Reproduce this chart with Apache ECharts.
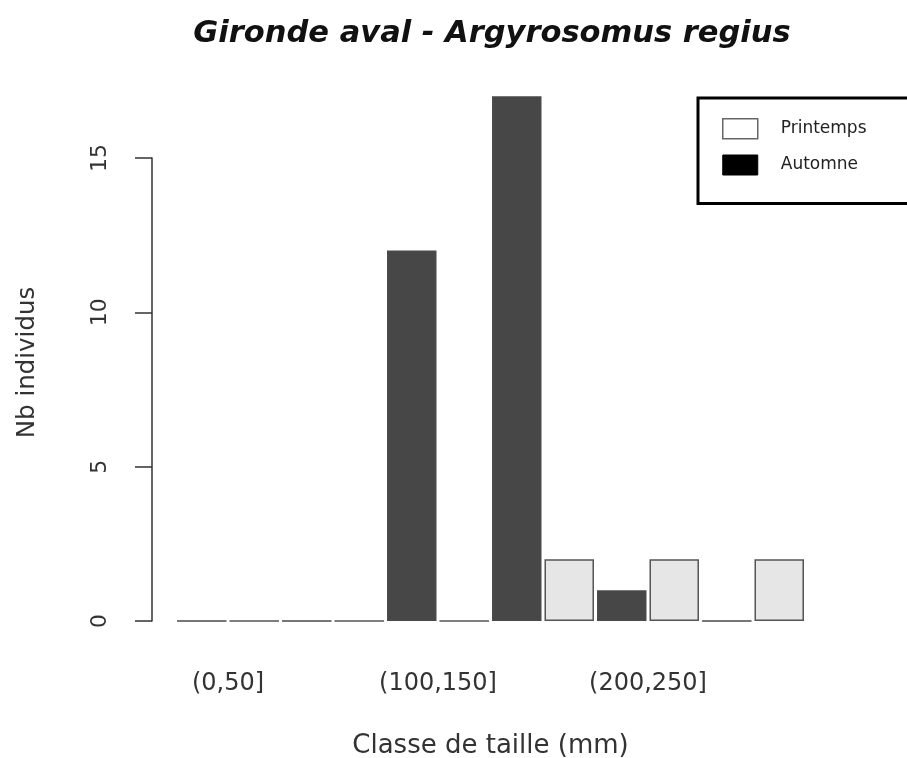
<!DOCTYPE html>
<html>
<head>
<meta charset="utf-8">
<script src="https://cdn.jsdelivr.net/npm/echarts@6/dist/echarts.min.js"></script>
<style>html,body{margin:0;padding:0;background:#fff;}#c{width:907px;height:758px;}</style>
</head>
<body>
<div id="c"></div>
<script>
const categories = ['(0,50]', '(50,100]', '(100,150]', '(150,200]', '(200,250]', '(250,300]'];
const automne = [0, 0, 12, 17, 1, 0];
const printemps = [0, 0, 0, 2, 2, 2];
const yTicks = [0, 5, 10, 15];

const FONT = 'DejaVu Sans';
const chart = echarts.init(document.getElementById('c'));
chart.setOption({
  animation: false,
  backgroundColor: '#fff',
  title: {
    text: 'Gironde aval - Argyrosomus regius',
    left: 487, top: 14, textAlign: 'center',
    textStyle: { fontFamily: FONT, fontSize: 30.5, fontWeight: 'bold', fontStyle: 'italic', color: '#111' }
  },
  legend: {
    orient: 'vertical', left: 698, top: 98,
    borderColor: '#000', borderWidth: 3,
    padding: [20, 80, 28, 24],
    itemWidth: 35, itemHeight: 20, itemGap: 15,
    icon: 'rect',
    textStyle: { fontFamily: FONT, fontSize: 17, color: '#222', padding: [0, 0, 0, 18] },
    data: [
      { name: 'Printemps', itemStyle: { color: '#fff', borderColor: '#666', borderWidth: 1.5 } },
      { name: 'Automne', itemStyle: { color: '#000', borderColor: '#000', borderWidth: 1 } }
    ]
  },
  grid: [
    { left: 175.5, right: 101.5, top: 96.2, bottom: 137, outerBoundsMode: 'none', containLabel: false },
    { left: 152, width: 10, top: 158, bottom: 137, outerBoundsMode: 'none', containLabel: false }
  ],
  xAxis: [
    {
      type: 'category', gridIndex: 0, data: categories,
      axisLine: { show: false }, axisTick: { show: false },
      axisLabel: { interval: 1, fontFamily: FONT, fontSize: 24, color: '#333', margin: 51 },
      name: 'Classe de taille (mm)', nameLocation: 'middle', nameGap: 112,
      nameTextStyle: { fontFamily: FONT, fontSize: 26, color: '#333' }
    },
    { type: 'category', gridIndex: 1, data: ['a'], show: false }
  ],
  yAxis: [
    { type: 'value', gridIndex: 0, min: 0, max: 17, show: false },
    {
      type: 'value', gridIndex: 1, min: 0, max: 15, interval: 5,
      axisLine: { show: true, lineStyle: { color: '#333', width: 1.5 } },
      axisTick: { show: true, length: 17, lineStyle: { color: '#333', width: 1.5 } },
      splitLine: { show: false },
      axisLabel: {
        rotate: 90, fontFamily: FONT, fontSize: 22, color: '#333', margin: 41,
        formatter: function (v) { return yTicks.indexOf(v) >= 0 ? String(v) : ''; }
      },
      name: 'Nb individus', nameLocation: 'middle', nameRotate: 90, nameGap: 112,
      nameTextStyle: { fontFamily: FONT, fontSize: 24.5, color: '#333', padding: [0, 0, 0, 54] }
    }
  ],
  series: [
    {
      name: 'Automne', type: 'bar', xAxisIndex: 0, yAxisIndex: 0, data: automne,
      barCategoryGap: '2.9%', barGap: '6%',
      itemStyle: { color: '#474747', borderColor: '#4a4a4a', borderWidth: 1.5 }
    },
    {
      name: 'Printemps', type: 'bar', xAxisIndex: 0, yAxisIndex: 0, data: printemps,
      barCategoryGap: '2.9%', barGap: '6%',
      itemStyle: { color: '#e6e6e6', borderColor: '#555', borderWidth: 1.5 }
    }
  ]
});
</script>
</body>
</html>
